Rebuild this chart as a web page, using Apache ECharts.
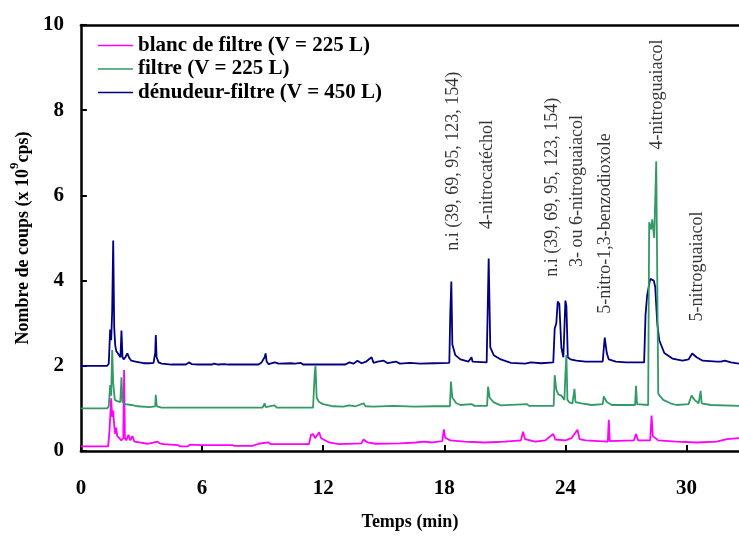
<!DOCTYPE html>
<html><head><meta charset="utf-8">
<script src="https://cdn.jsdelivr.net/npm/echarts@6/dist/echarts.min.js"></script>
<style>html,body{margin:0;padding:0;background:#fff}#c{width:739px;height:536px}</style>
</head><body><div id="c"></div>
<script>
// Series names
const seriesNames = ['blanc de filtre (V = 225 L)', 'filtre (V = 225 L)', 'dénudeur-filtre (V = 450 L)'];
// x-axis tick labels (min) and y ticks
const xTicks = [0, 6, 12, 18, 24, 30];
const yTicks = [0, 2, 4, 6, 8, 10];

// [time (min), counts (x10^9 cps)]
const blanc = [[0,0.11],[1.35,0.11],[1.42,0.5],[1.5,1.24],[1.55,0.8],[1.6,0.95],[1.65,0.6],[1.7,0.4],[1.75,0.55],[1.8,0.35],[1.9,0.3],[2.0,0.25],[2.1,0.3],[2.14,1.9],[2.18,0.3],[2.25,0.25],[2.35,0.38],[2.45,0.25],[2.55,0.35],[2.65,0.22],[2.9,0.2],[3.3,0.17],[3.8,0.22],[3.9,0.18],[3.95,0.22],[4.1,0.16],[4.8,0.14],[4.9,0.11],[5.3,0.11],[5.4,0.15],[6.0,0.14],[7.5,0.14],[7.6,0.12],[8.5,0.12],[8.8,0.17],[9.3,0.2],[9.4,0.16],[11.3,0.16],[11.4,0.38],[11.5,0.4],[11.6,0.3],[11.8,0.44],[11.9,0.3],[12.3,0.2],[12.8,0.16],[13.9,0.18],[14.0,0.27],[14.2,0.2],[14.6,0.17],[15.8,0.18],[16.6,0.2],[17.0,0.22],[17.4,0.2],[17.9,0.23],[17.98,0.51],[18.05,0.31],[18.3,0.25],[19.0,0.22],[20.0,0.2],[21.0,0.22],[21.8,0.25],[21.9,0.45],[22.0,0.28],[22.5,0.22],[23.0,0.25],[23.4,0.4],[23.5,0.27],[24.0,0.25],[24.3,0.3],[24.6,0.5],[24.7,0.28],[25.0,0.25],[26.1,0.22],[26.15,0.73],[26.2,0.23],[27.4,0.25],[27.5,0.4],[27.6,0.25],[28.2,0.25],[28.27,0.83],[28.33,0.35],[28.6,0.25],[29.5,0.22],[30.5,0.2],[31.5,0.22],[32.0,0.28],[32.6,0.3]];

const filtre = [[0,1.0],[1.3,1.0],[1.38,1.05],[1.45,1.55],[1.5,1.3],[1.55,2.37],[1.6,1.6],[1.68,1.2],[1.8,1.17],[1.95,1.15],[2.01,1.73],[2.06,1.15],[2.2,1.1],[2.5,1.08],[2.8,1.05],[3.4,1.03],[3.68,1.05],[3.71,1.32],[3.76,1.05],[4.0,1.02],[9.0,1.02],[9.1,1.12],[9.15,1.03],[9.6,1.07],[9.7,1.02],[11.5,1.02],[11.58,1.8],[11.62,2.0],[11.68,1.25],[11.8,1.15],[12.0,1.1],[12.5,1.05],[13.0,1.04],[13.3,1.07],[13.6,1.05],[14.0,1.12],[14.1,1.05],[14.5,1.04],[15.5,1.06],[16.5,1.04],[17.5,1.05],[18.28,1.05],[18.33,1.63],[18.4,1.25],[18.6,1.12],[18.8,1.08],[19.35,1.1],[19.5,1.06],[20.12,1.06],[20.17,1.51],[20.25,1.25],[20.45,1.14],[20.8,1.07],[22.1,1.1],[22.2,1.06],[23.42,1.06],[23.47,1.78],[23.55,1.44],[23.65,1.33],[23.8,1.3],[23.95,1.2],[24.0,1.8],[24.05,2.25],[24.1,1.2],[24.2,1.14],[24.35,1.12],[24.45,1.46],[24.5,1.15],[24.8,1.12],[25.3,1.08],[25.85,1.1],[25.9,1.28],[26.05,1.15],[26.3,1.08],[27.45,1.08],[27.5,1.53],[27.55,1.1],[28.1,1.08],[28.15,5.37],[28.25,5.2],[28.3,5.44],[28.4,5.0],[28.5,6.8],[28.55,6.8],[28.6,1.35],[28.7,1.28],[28.85,1.2],[29.2,1.12],[29.5,1.08],[30.1,1.1],[30.25,1.3],[30.4,1.2],[30.6,1.12],[30.7,1.41],[30.75,1.12],[31.2,1.08],[32.6,1.06]];

const denudeur = [[0,2.0],[1.3,2.0],[1.38,2.05],[1.45,2.85],[1.5,2.6],[1.55,3.3],[1.6,4.94],[1.65,2.9],[1.7,2.48],[1.75,2.35],[1.82,2.3],[1.9,2.28],[1.96,2.2],[2.01,2.83],[2.06,2.2],[2.12,2.15],[2.2,2.2],[2.3,2.29],[2.4,2.18],[2.5,2.12],[2.7,2.1],[2.9,2.08],[3.1,2.06],[3.4,2.06],[3.6,2.07],[3.68,2.3],[3.71,2.72],[3.75,2.2],[3.85,2.08],[4.0,2.05],[4.5,2.03],[5.2,2.03],[5.35,2.08],[5.5,2.04],[5.8,2.03],[6.5,2.03],[6.6,2.05],[6.8,2.03],[7.1,2.04],[7.3,2.03],[8.8,2.03],[8.95,2.08],[9.1,2.2],[9.15,2.29],[9.2,2.1],[9.3,2.04],[9.6,2.08],[9.8,2.05],[10.4,2.06],[10.6,2.05],[10.9,2.07],[11.0,2.03],[13.1,2.03],[13.3,2.08],[13.5,2.05],[13.7,2.12],[13.9,2.06],[14.1,2.09],[14.4,2.2],[14.5,2.07],[14.7,2.1],[15.0,2.12],[15.2,2.06],[15.6,2.1],[15.8,2.05],[16.3,2.07],[16.8,2.05],[17.5,2.06],[18.25,2.07],[18.3,3.27],[18.35,3.98],[18.4,2.5],[18.55,2.25],[18.8,2.15],[19.2,2.1],[19.35,2.2],[19.4,2.1],[20.1,2.08],[20.15,3.3],[20.2,4.52],[20.28,2.43],[20.45,2.25],[20.8,2.15],[21.3,2.07],[22.0,2.05],[22.3,2.08],[22.8,2.06],[23.4,2.08],[23.47,2.87],[23.55,3.0],[23.62,3.51],[23.7,3.45],[23.8,2.43],[23.9,2.2],[24.0,3.53],[24.05,3.4],[24.12,2.2],[24.25,2.15],[24.55,2.12],[25.0,2.1],[25.85,2.1],[25.9,2.4],[25.95,2.66],[26.05,2.3],[26.15,2.15],[26.5,2.1],[27.0,2.08],[27.9,2.08],[27.97,3.2],[28.05,3.65],[28.2,4.04],[28.38,4.0],[28.45,3.85],[28.55,3.0],[28.65,2.6],[28.9,2.3],[29.3,2.17],[29.8,2.12],[30.1,2.15],[30.28,2.29],[30.5,2.2],[30.8,2.12],[31.5,2.1],[31.55,2.13],[31.7,2.1],[31.9,2.12],[32.2,2.08],[32.6,2.05]];

// Peak annotations: label text, time, level where text begins
const annoLabels = ['n.i (39, 69, 95, 123, 154)', '4-nitrocatéchol', 'n.i (39, 69, 95, 123, 154)', '3- ou 6-nitroguaiacol', '5-nitro-1,3-benzodioxole', '4-nitroguaiacol', '5-nitroguaiacol'];
const annoTimes = [18.47, 20.15, 23.35, 24.59, 25.99, 28.55, 30.53];
const annoLevels = [4.70, 5.21, 4.09, 4.32, 3.22, 7.08, 3.04];

const colors = ['#ff00ff', '#339966', '#000080'];
const FONT = 'Liberation Serif';

const chart = echarts.init(document.getElementById('c'), null, {renderer: 'canvas'});
const lineSeries = [blanc, filtre, denudeur].map((d, i) => ({
  name: seriesNames[i], type: 'line', data: d, symbol: 'none',
  lineStyle: {color: colors[i], width: 1.8}, itemStyle: {color: colors[i]},
  z: i === 1 ? 4 : 3
}));
const annoSeries = {
  type: 'scatter', symbolSize: 0, silent: true, z: 5,
  data: annoLabels.map((s, i) => ({value: [annoTimes[i], annoLevels[i]], name: s})),
  label: {show: true, formatter: p => p.name, rotate: 90, position: [0, 0], align: 'left', verticalAlign: 'middle',
    fontFamily: FONT, fontSize: 18, color: '#000'}
};

chart.setOption({
  animation: false,
  grid: {left: 80, right: 0, top: 25, bottom: 83, containLabel: false},
  legend: {
    data: seriesNames.map((n, i) => ({name: n, icon: 'rect', itemStyle: {color: colors[i]}})),
    orient: 'vertical', left: 98, top: 35, padding: 0, itemWidth: 35, itemHeight: 1.5, itemGap: 2.5,
    textStyle: {fontFamily: FONT, fontSize: 21, fontWeight: 'bold', color: '#000', lineHeight: 21}
  },
  xAxis: [{
    type: 'value', min: 0, max: 32.6, interval: 6,
    name: 'Temps (min)', nameLocation: 'middle', nameGap: 62,
    nameTextStyle: {fontFamily: FONT, fontSize: 18, fontWeight: 'bold', color: '#000'},
    axisLine: {show: true, lineStyle: {color: '#000', width: 2.5}},
    axisTick: {show: true, inside: true, length: 6, lineStyle: {color: '#000', width: 2}},
    axisLabel: {margin: 27, fontFamily: FONT, fontSize: 21, fontWeight: 'bold', color: '#000', showMaxLabel: false,
      formatter: v => xTicks.includes(v) ? String(v) : ''},
    splitLine: {show: false}
  }, {
    type: 'value', position: 'top', min: 0, max: 32.6,
    axisLine: {show: true, lineStyle: {color: '#000', width: 2.5}},
    axisTick: {show: false}, axisLabel: {show: false}, splitLine: {show: false}
  }],
  yAxis: {
    type: 'value', min: 0, max: 10, interval: 2,
    name: '{a|Nombre de coups (x 10}{s|9}{a|cps)}', nameLocation: 'middle', nameGap: 32,
    nameTextStyle: {fontFamily: FONT, fontSize: 18, fontWeight: 'bold', color: '#000',
      rich: {a: {fontFamily: FONT, fontSize: 18, fontWeight: 'bold', color: '#000', lineHeight: 24, verticalAlign: 'bottom'},
             s: {fontFamily: FONT, fontSize: 13, fontWeight: 'bold', color: '#000', lineHeight: 24, verticalAlign: 'top'}}},
    axisLine: {show: true, lineStyle: {color: '#000', width: 2.5}},
    axisTick: {show: true, inside: true, length: 6, lineStyle: {color: '#000', width: 2}},
    axisLabel: {margin: 17, fontFamily: FONT, fontSize: 21, fontWeight: 'bold', color: '#000',
      formatter: v => yTicks.includes(v) ? String(v) : ''},
    splitLine: {show: false}
  },
  series: [...lineSeries, annoSeries]
});
</script></body></html>
